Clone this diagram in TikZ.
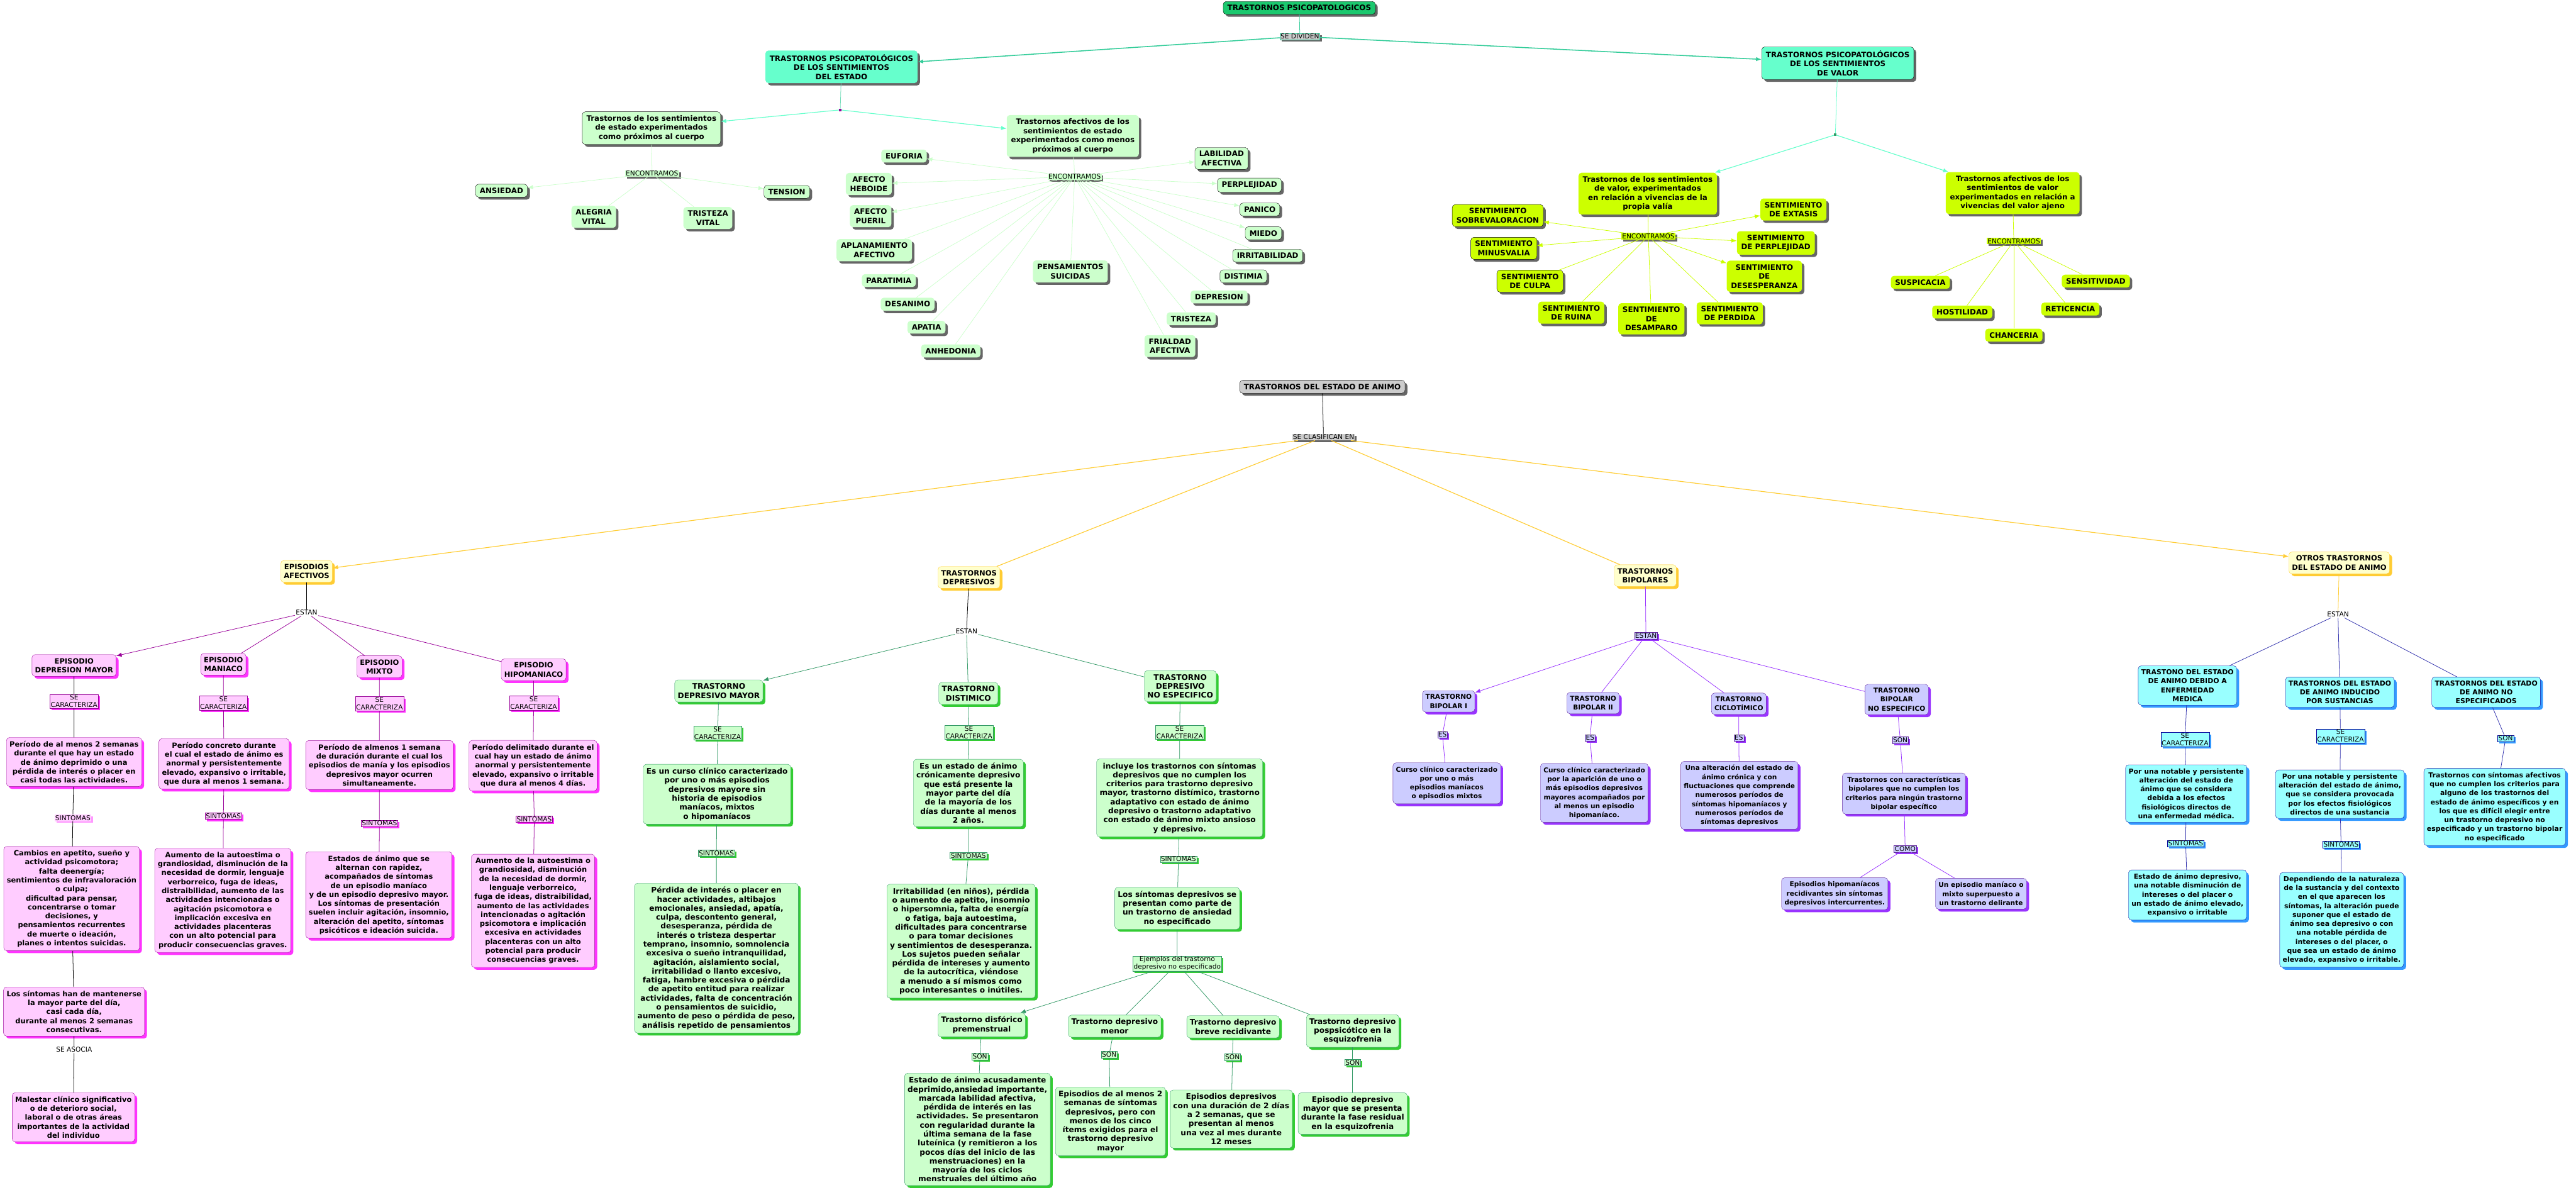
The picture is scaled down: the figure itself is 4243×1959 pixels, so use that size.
\documentclass[tikz,border=0pt]{standalone}
\usepackage{fontspec}
\setmainfont{DejaVu Sans}
\usetikzlibrary{arrows.meta,shadows}
\definecolor{cRoot}{HTML}{1BC86E}
\definecolor{cAqua}{HTML}{66FFCC}
\definecolor{cSeaLn}{HTML}{33CC99}
\definecolor{cMint}{HTML}{CCFFCC}
\definecolor{cLime}{HTML}{CCFF00}
\definecolor{cShade}{HTML}{666666}
\definecolor{cGold}{HTML}{FFCC33}
\definecolor{cCream}{HTML}{FFFFCC}
\definecolor{cPink}{HTML}{FFCCFF}
\definecolor{cMag}{HTML}{FF33FF}
\definecolor{cPlum}{HTML}{990099}
\definecolor{cLeaf}{HTML}{33CC33}
\definecolor{cSea}{HTML}{339966}
\definecolor{cLav}{HTML}{CCCCFF}
\definecolor{cViol}{HTML}{9933FF}
\definecolor{cIce}{HTML}{99FFFF}
\definecolor{cSky}{HTML}{3399FF}
\definecolor{cNavy}{HTML}{000099}

\begin{document}
\begin{tikzpicture}[x=1pt,y=-1pt,>={Latex[length=9pt,width=7pt]},
  box/.style={rounded corners=5pt,align=center,inner xsep=5pt,inner ysep=6pt,font=\bfseries\fontsize{12}{14.8}\selectfont},
  tbox/.style={box,inner xsep=7pt,font=\bfseries\fontsize{12.3}{15}\selectfont},
  tag/.style={align=center,inner sep=1.2pt,font=\fontsize{11}{12.5}\selectfont},
  shd/.style={drop shadow={shadow xshift=4pt,shadow yshift=-4pt,fill=#1,opacity=1}},
  tshd/.style={drop shadow={shadow xshift=3pt,shadow yshift=-3pt,fill=#1,opacity=1}},
  ln/.style={draw=#1,line width=0.8pt},
  emo/.style={tbox,fill=cMint,shd=cShade},
  emob/.style={emo,draw=black},
  sent/.style={tbox,fill=cLime,shd=cShade},
  sentb/.style={sent,draw=black},
  kind/.style={box,fill=cCream,draw=cGold,shd=cGold},
  epi/.style={box,fill=cPink,draw=cPlum,shd=cMag,font=\bfseries\fontsize{11.9}{14.8}\selectfont},
  epitag/.style={tag,fill=cPink,draw=cPlum,tshd=cMag},
  dep/.style={box,fill=cMint,draw=cSea,shd=cLeaf,font=\bfseries\fontsize{12.6}{14.8}\selectfont},
  deptag/.style={tag,fill=cMint,draw=cSea,tshd=cLeaf},
  bip/.style={box,fill=cLav,draw=cViol!60!black,shd=cViol,font=\bfseries\fontsize{11}{14.8}\selectfont},
  biptag/.style={tag,fill=cLav,draw=cViol!60!black,tshd=cViol},
  otr/.style={box,fill=cIce,draw=cNavy,shd=cSky,font=\bfseries\fontsize{11.3}{14.8}\selectfont},
  otrtag/.style={tag,fill=cIce,draw=cNavy,tshd=cSky}]
\useasboundingbox (0,0) rectangle (4243,1959);

\node[tbox,fill=cRoot,draw=black,shd=cShade] (root) at (2140,13) {TRASTORNOS PSICOPATOLOGICOS};
\node[tag,fill=gray!40,draw=cSeaLn,tshd=cShade] (divide) at (2141,60) {SE DIVIDEN};
\node[tbox,fill=cAqua,shd=cShade] (estado) at (1386,110) {TRASTORNOS PSICOPATOLÓGICOS\\DE LOS SENTIMIENTOS\\DEL ESTADO};
\node[tbox,fill=cAqua,draw=black,shd=cShade] (valor) at (3027,104) {TRASTORNOS PSICOPATOLÓGICOS\\DE LOS SENTIMIENTOS\\DE VALOR};
\node[fill=cPlum,inner sep=0pt,minimum size=4pt] (dotA) at (1384,181) {};
\node[fill=cSea,inner sep=0pt,minimum size=4pt] (dotB) at (3023,222) {};
\draw[ln=cSeaLn] (root) -- (divide);
\draw[ln=cSeaLn,line width=1.6pt,->] (divide) -- (estado);
\draw[ln=cSeaLn,line width=1.6pt,->] (divide) -- (valor);

\node[emob] (proximos) at (1073,211) {Trastornos de los sentimientos\\de estado experimentados\\como próximos al cuerpo};
\node[emo] (menos) at (1767,224) {Trastornos afectivos de los\\sentimientos de estado\\experimentados como menos\\próximos al cuerpo};
\draw[ln=cSeaLn!70] (estado) -- (dotA);
\draw[ln=cAqua,line width=1.2pt,->] (dotA) -- (proximos);
\draw[ln=cAqua,line width=1.2pt,->] (dotA) -- (menos);

\node[tag,fill=cMint,tshd=cShade] (encA) at (1074,286) {ENCONTRAMOS};
\node[emob] (ansiedad) at (826,314) {ANSIEDAD};
\node[emo] (alegria) at (978,357) {ALEGRIA\\VITAL};
\node[emo] (tristv) at (1166,359) {TRISTEZA\\VITAL};
\node[emob] (tension) at (1296,316) {TENSION};
\draw[ln=cMint] (proximos) -- (encA);
\draw[ln=cMint,->] (encA) -- (ansiedad);
\draw[ln=cMint] (encA) -- (alegria);
\draw[ln=cMint] (encA) -- (tristv);
\draw[ln=cMint,->] (encA) -- (tension);

\node[tag,fill=cMint,tshd=cShade] (encB) at (1770,291) {ENCONTRAMOS};
\node[emo] (euforia) at (1489,257) {EUFORIA};
\node[emo] (heboide) at (1431,303) {AFECTO\\HEBOIDE};
\node[emo] (pueril) at (1434,356) {AFECTO\\PUERIL};
\node[emo] (aplan) at (1440,412) {APLANAMIENTO\\AFECTIVO};
\node[emo] (paratimia) at (1464,462) {PARATIMIA};
\node[emo] (desanimo) at (1495,501) {DESANIMO};
\node[emo] (apatia) at (1526,539) {APATIA};
\node[emo] (anhedonia) at (1566,578) {ANHEDONIA};
\node[emo] (suicidas) at (1763,447) {PENSAMIENTOS\\SUICIDAS};
\node[emo] (frialdad) at (1927,570) {FRIALDAD\\AFECTIVA};
\node[emo] (tristeza) at (1962,525) {TRISTEZA};
\node[emo] (depresion) at (2008,489) {DEPRESION};
\node[emob] (distimia) at (2048,455) {DISTIMIA};
\node[emob] (irrita) at (2088,421) {IRRITABILIDAD};
\node[emob] (miedo) at (2081,384) {MIEDO};
\node[emob] (panico) at (2075,345) {PANICO};
\node[emob] (perplej) at (2058,305) {PERPLEJIDAD};
\node[emob] (labil) at (2012,261) {LABILIDAD\\AFECTIVA};
\draw[ln=cMint] (menos) -- (encB);
\foreach \n in {euforia,heboide,pueril,miedo,panico,perplej,labil}
  \draw[ln=cMint,->] (encB) -- (\n);
\foreach \n in {aplan,paratimia,desanimo,apatia,anhedonia,suicidas,frialdad,tristeza,depresion,distimia,irrita}
  \draw[ln=cMint] (encB) -- (\n);

\node[sent] (propia) at (2714,319) {Trastornos de los sentimientos\\de valor, experimentados\\en relación a vivencias de la\\propia valía};
\node[sent] (ajeno) at (3315,318) {Trastornos afectivos de los\\sentimientos de valor\\experimentados en relación a\\vivencias del valor ajeno};
\draw[ln=cAqua] (valor) -- (dotB);
\draw[ln=cAqua,line width=1.2pt,->] (dotB) -- (propia);
\draw[ln=cAqua,line width=1.2pt,->] (dotB) -- (ajeno);

\node[tag,fill=cLime,tshd=cShade] (encC) at (2715,389) {ENCONTRAMOS};
\node[sentb] (sobre) at (2467,355) {SENTIMIENTO\\SOBREVALORACION};
\node[sentb] (minus) at (2477,409) {SENTIMIENTO\\MINUSVALIA};
\node[sentb] (culpa) at (2520,463) {SENTIMIENTO\\DE CULPA};
\node[sent] (ruina) at (2588,515) {SENTIMIENTO\\DE RUINA};
\node[sent] (desamp) at (2720,525) {SENTIMIENTO\\DE\\DESAMPARO};
\node[sent] (perdida) at (2849,516) {SENTIMIENTO\\DE PERDIDA};
\node[sent] (desesp) at (2906,455) {SENTIMIENTO\\DE\\DESESPERANZA};
\node[sent] (sperp) at (2925,400) {SENTIMIENTO\\DE PERPLEJIDAD};
\node[sent] (extasis) at (2954,345) {SENTIMIENTO\\DE EXTASIS};
\draw[ln=cLime] (propia) -- (encC);
\foreach \n in {sobre,minus,desesp,sperp,extasis}
  \draw[ln=cLime,->] (encC) -- (\n);
\foreach \n in {culpa,ruina,desamp,perdida}
  \draw[ln=cLime] (encC) -- (\n);

\node[tag,fill=cLime,tshd=cShade] (encD) at (3317,397) {ENCONTRAMOS};
\node[sent] (suspic) at (3163,465) {SUSPICACIA};
\node[sent] (hostil) at (3232,514) {HOSTILIDAD};
\node[sent] (chanc) at (3317,552) {CHANCERIA};
\node[sent] (retic) at (3410,509) {RETICENCIA};
\node[sent] (sensit) at (3452,463) {SENSITIVIDAD};
\draw[ln=cLime] (ajeno) -- (encD);
\foreach \n in {suspic,hostil,chanc,retic,sensit}
  \draw[ln=cLime] (encD) -- (\n);

\node[tbox,fill=gray!40,draw=black,shd=cShade] (animo) at (2178,637) {TRASTORNOS DEL ESTADO DE ANIMO};
\node[tag,fill=gray!40,tshd=cShade] (clasif) at (2180,720) {SE CLASIFICAN EN};
\node[kind] (episod) at (505,941) {EPISODIOS\\AFECTIVOS};
\node[kind] (depres) at (1596,951) {TRASTORNOS\\DEPRESIVOS};
\node[kind] (bipol) at (2710,948) {TRASTORNOS\\BIPOLARES};
\node[kind] (otros) at (3853,927) {OTROS TRASTORNOS\\DEL ESTADO DE ANIMO};
\draw[ln=black] (animo) -- (clasif);
\draw[ln=cGold,line width=1.2pt,->] (clasif) -- (episod);
\draw[ln=cGold,line width=1.2pt] (clasif) -- (depres);
\draw[ln=cGold,line width=1.2pt] (clasif) -- (bipol);
\draw[ln=cGold,line width=1.2pt,->] (clasif) -- (otros);

\node[tag] (estanE) at (505,1009) {ESTAN};
\node[epi] (epdm) at (122,1096) {EPISODIO\\DEPRESION MAYOR};
\node[epi] (epman) at (368,1094) {EPISODIO\\MANIACO};
\node[epi] (epmix) at (625,1098) {EPISODIO\\MIXTO};
\node[epi] (ephipo) at (879,1103) {EPISODIO\\HIPOMANIACO};
\node[epitag] (carDm) at (122,1155) {SE\\CARACTERIZA};
\node[epitag] (carMan) at (368,1158) {SE\\CARACTERIZA};
\node[epitag] (carMix) at (625,1159) {SE\\CARACTERIZA};
\node[epitag] (carHipo) at (879,1158) {SE\\CARACTERIZA};
\node[epi] (descDm) at (122,1255) {Período de al menos 2 semanas\\durante el que hay un estado\\de ánimo deprimido o una\\pérdida de interés o placer en\\casi todas las actividades.};
\node[epi] (descMan) at (369,1258) {Período concreto durante\\el cual el estado de ánimo es\\anormal y persistentemente\\elevado, expansivo o irritable,\\que dura al menos 1 semana.};
\node[epi] (descMix) at (625,1260) {Período de almenos 1 semana\\de duración durante el cual los\\episodios de manía y los episodios\\depresivos mayor ocurren\\simultaneamente.};
\node[epi] (descHipo) at (878,1261) {Período delimitado durante el\\cual hay un estado de ánimo\\anormal y persistentemente\\elevado, expansivo o irritable\\que dura al menos 4 días.};
\node[tag,fill=cPink,tshd=cMag!50] (sinDm) at (120,1347) {SINTOMAS};
\node[epitag] (sinMan) at (368,1344) {SINTOMAS};
\node[epitag] (sinMix) at (625,1356) {SINTOMAS};
\node[epitag] (sinHipo) at (880,1349) {SINTOMAS};
\node[epi] (symDm) at (118,1480) {Cambios en apetito, sueño y\\actividad psicomotora;\\falta deenergía;\\sentimientos de infravaloración\\o culpa;\\dificultad para pensar,\\concentrarse o tomar\\decisiones, y\\pensamientos recurrentes\\de muerte o ideación,\\planes o intentos suicidas.};
\node[epi] (symMan) at (367,1483) {Aumento de la autoestima o\\grandiosidad, disminución de la\\necesidad de dormir, lenguaje\\verborreico, fuga de ideas,\\distraibilidad, aumento de las\\actividades intencionadas o\\agitación psicomotora e\\implicación excesiva en\\actividades placenteras\\con un alto potencial para\\producir consecuencias graves.};
\node[epi] (symMix) at (624,1474) {Estados de ánimo que se\\alternan con rapidez,\\acompañados de síntomas\\de un episodio maníaco\\y de un episodio depresivo mayor.\\Los síntomas de presentación\\suelen incluir agitación, insomnio,\\alteración del apetito, síntomas\\psicóticos e ideación suicida.};
\node[epi] (symHipo) at (878,1500) {Aumento de la autoestima o\\grandiosidad, disminución\\de la necesidad de dormir,\\lenguaje verborreico,\\fuga de ideas, distraibilidad,\\aumento de las actividades\\intencionadas o agitación\\psicomotora e implicación\\excesiva en actividades\\placenteras con un alto\\potencial para producir\\consecuencias graves.};
\node[epi] (mantDm) at (122,1666) {Los síntomas han de mantenerse\\la mayor parte del día,\\casi cada día,\\durante al menos 2 semanas\\consecutivas.};
\node[tag] (asocia) at (122,1729) {SE ASOCIA};
\node[epi] (malestar) at (121,1840) {Malestar clínico significativo\\o de deterioro social,\\laboral o de otras áreas\\importantes de la actividad\\del individuo};
\draw[ln=black] (episod) -- (estanE);
\draw[ln=cPlum,->] (estanE) -- (epdm);
\foreach \n in {epman,epmix,ephipo}
  \draw[ln=cPlum] (estanE) -- (\n);
\draw[ln=black] (epdm) -- (carDm) -- (descDm) -- (sinDm) -- (symDm) -- (mantDm) -- (asocia) -- (malestar);
\draw[ln=cPlum] (epman) -- (carMan) -- (descMan) -- (sinMan) -- (symMan);
\draw[ln=cPlum] (epmix) -- (carMix) -- (descMix) -- (sinMix) -- (symMix);
\draw[ln=cPlum] (ephipo) -- (carHipo) -- (descHipo) -- (sinHipo) -- (symHipo);

\node[tag] (estanD) at (1592,1040) {ESTAN};
\node[dep] (tdm) at (1184,1138) {TRASTORNO\\DEPRESIVO MAYOR};
\node[dep] (tdist) at (1595,1142) {TRASTORNO\\DISTIMICO};
\node[dep] (tdne) at (1944,1130) {TRASTORNO\\DEPRESIVO\\NO ESPECIFICO};
\node[deptag] (carTdm) at (1182,1207) {SE\\CARACTERIZA};
\node[deptag] (carDist) at (1596,1206) {SE\\CARACTERIZA};
\node[deptag] (carNe) at (1943,1206) {SE\\CARACTERIZA};
\node[dep] (descTdm) at (1181,1308) {Es un curso clínico caracterizado\\por uno o más episodios\\depresivos mayore sin\\historia de episodios\\maníacos, mixtos\\o hipomaníacos};
\node[dep] (descDist) at (1595,1306) {Es un estado de ánimo\\crónicamente depresivo\\que está presente la\\mayor parte del día\\de la mayoría de los\\días durante al menos\\2 años.};
\node[dep] (descNe) at (1943,1314) {incluye los trastornos con síntomas\\depresivos que no cumplen los\\criterios para trastorno depresivo\\mayor, trastorno distímico, trastorno\\adaptativo con estado de ánimo\\depresivo o trastorno adaptativo\\con estado de ánimo mixto ansioso\\y depresivo.};
\node[deptag] (sinTdm) at (1180,1405) {SINTOMAS};
\node[deptag] (sinDist) at (1595,1409) {SINTOMAS};
\node[deptag] (sinNe) at (1941,1415) {SINTOMAS};
\node[dep] (symTdm) at (1180,1578) {Pérdida de interés o placer en\\hacer actividades, altibajos\\emocionales, ansiedad, apatía,\\culpa, descontento general,\\desesperanza, pérdida de\\interés o tristeza despertar\\temprano, insomnio, somnolencia\\excesiva o sueño intranquilidad,\\agitación, aislamiento social,\\irritabilidad o llanto excesivo,\\fatiga, hambre excesiva o pérdida\\de apetito entitud para realizar\\actividades, falta de concentración\\o pensamientos de suicidio,\\aumento de peso o pérdida de peso,\\análisis repetido de pensamientos};
\node[dep] (symDist) at (1583,1550) {Irritabilidad (en niños), pérdida\\o aumento de apetito, insomnio\\o hipersomnia, falta de energía\\o fatiga, baja autoestima,\\dificultades para concentrarse\\o para tomar decisiones\\y sentimientos de desesperanza.\\Los sujetos pueden señalar\\pérdida de intereses y aumento\\de la autocrítica, viéndose\\a menudo a sí mismos como\\poco interesantes o inútiles.};
\node[dep] (symNe) at (1939,1496) {Los síntomas depresivos se\\presentan como parte de\\un trastorno de ansiedad\\no especificado};
\node[deptag] (ejemplos) at (1939,1587) {Ejemplos del trastorno\\depresivo no especificado};
\node[dep] (disf) at (1617,1688) {Trastorno disfórico\\premenstrual};
\node[dep] (menor) at (1836,1690) {Trastorno depresivo\\menor};
\node[dep] (breve) at (2031,1691) {Trastorno depresivo\\breve recidivante};
\node[dep] (posps) at (2228,1698) {Trastorno depresivo\\pospsicótico en la\\esquizofrenia};
\node[deptag] (sonDisf) at (1614,1740) {SON};
\node[deptag] (sonMenor) at (1827,1737) {SON};
\node[deptag] (sonBreve) at (2030,1741) {SON};
\node[deptag] (sonPosps) at (2228,1750) {SON};
\node[dep] (dDisf) at (1610,1860) {Estado de ánimo acusadamente\\deprimido,ansiedad importante,\\marcada labilidad afectiva,\\pérdida de interés en las\\actividades. Se presentaron\\con regularidad durante la\\última semana de la fase\\luteínica (y remitieron a los\\pocos días del inicio de las\\menstruaciones) en la\\mayoría de los ciclos\\menstruales del último año};
\node[dep] (dMenor) at (1829,1847) {Episodios de al menos 2\\semanas de síntomas\\depresivos, pero con\\menos de los cinco\\ítems exigidos para el\\trastorno depresivo\\mayor};
\node[dep] (dBreve) at (2028,1843) {Episodios depresivos\\con una duración de 2 días\\a 2 semanas, que se\\presentan al menos\\una vez al mes durante\\12 meses};
\node[dep] (dPosps) at (2228,1834) {Episodio depresivo\\mayor que se presenta\\durante la fase residual\\en la esquizofrenia};
\draw[ln=black] (depres) -- (estanD);
\draw[ln=cSea,->] (estanD) -- (tdm);
\draw[ln=cSea] (estanD) -- (tdist);
\draw[ln=cSea] (estanD) -- (tdne);
\draw[ln=cSea] (tdm) -- (carTdm) -- (descTdm) -- (sinTdm) -- (symTdm);
\draw[ln=cSea] (tdist) -- (carDist) -- (descDist) -- (sinDist) -- (symDist);
\draw[ln=cSea] (tdne) -- (carNe) -- (descNe) -- (sinNe) -- (symNe) -- (ejemplos);
\draw[ln=cSea,->] (ejemplos) -- (disf);
\foreach \n in {menor,breve,posps}
  \draw[ln=cSea] (ejemplos) -- (\n);
\draw[ln=cSea] (disf) -- (sonDisf) -- (dDisf);
\draw[ln=cSea] (menor) -- (sonMenor) -- (dMenor);
\draw[ln=cSea] (breve) -- (sonBreve) -- (dBreve);
\draw[ln=cSea] (posps) -- (sonPosps) -- (dPosps);

\node[biptag] (estanB) at (2711,1047) {ESTAN};
\node[bip] (bp1) at (2386,1155) {TRASTORNO\\BIPOLAR I};
\node[bip] (bp2) at (2624,1158) {TRASTORNO\\BIPOLAR II};
\node[bip] (ciclo) at (2864,1159) {TRASTORNO\\CICLOTÍMICO};
\node[bip] (bpne) at (3124,1152) {TRASTORNO\\BIPOLAR\\NO ESPECIFICO};
\node[biptag] (es1) at (2376,1210) {ES};
\node[biptag] (es2) at (2619,1215) {ES};
\node[biptag] (es3) at (2864,1215) {ES};
\node[biptag] (sonB) at (3130,1219) {SON};
\node[bip] (dbp1) at (2383,1290) {Curso clínico caracterizado\\por uno o más\\episodios maníacos\\o episodios mixtos};
\node[bip] (dbp2) at (2626,1306) {Curso clínico caracterizado\\por la aparición de uno o\\más episodios depresivos\\mayores acompañados por\\al menos un episodio\\hipomaníaco.};
\node[bip] (dciclo) at (2865,1310) {Una alteración del estado de\\ánimo crónica y con\\fluctuaciones que comprende\\numerosos períodos de\\síntomas hipomaníacos y\\numerosos períodos de\\síntomas depresivos};
\node[bip] (dbpne) at (3136,1307) {Trastornos con características\\bipolares que no cumplen los\\criterios para ningún trastorno\\bipolar específico};
\node[biptag] (como) at (3138,1398) {COMO};
\node[bip] (hiporec) at (3022,1472) {Episodios hipomaníacos\\recidivantes sin síntomas\\depresivos intercurrentes.};
\node[bip] (delir) at (3263,1472) {Un episodio maníaco o\\mixto superpuesto a\\un trastorno delirante};
\draw[ln=cViol] (bipol) -- (estanB);
\draw[ln=cViol,->] (estanB) -- (bp1);
\foreach \n in {bp2,ciclo,bpne}
  \draw[ln=cViol] (estanB) -- (\n);
\draw[ln=cViol] (bp1) -- (es1) -- (dbp1);
\draw[ln=cViol] (bp2) -- (es2) -- (dbp2);
\draw[ln=cViol] (ciclo) -- (es3) -- (dciclo);
\draw[ln=cViol] (bpne) -- (sonB) -- (dbpne) -- (como);
\draw[ln=cViol] (como) -- (hiporec);
\draw[ln=cViol] (como) -- (delir);

\node[tag] (estanO) at (3851,1012) {ESTAN};
\node[otr] (omed) at (3603,1129) {TRASTONO DEL ESTADO\\DE ANIMO DEBIDO A\\ENFERMEDAD\\MEDICA};
\node[otr] (osus) at (3854,1140) {TRASTORNOS DEL ESTADO\\DE ANIMO INDUCIDO\\POR SUSTANCIAS};
\node[otr] (one) at (4095,1140) {TRASTORNOS DEL ESTADO\\DE ANIMO NO\\ESPECIFICADOS};
\node[otrtag] (carMed) at (3599,1218) {SE\\CARACTERIZA};
\node[otrtag] (carSus) at (3855,1212) {SE\\CARACTERIZA};
\node[otrtag] (sonO) at (4127,1216) {SON};
\node[otr] (dMed) at (3601,1307) {Por una notable y persistente\\alteración del estado de\\ánimo que se considera\\debida a los efectos\\fisiológicos directos de\\una enfermedad médica.};
\node[otr] (dSus) at (3854,1308) {Por una notable y persistente\\alteración del estado de ánimo,\\que se considera provocada\\por los efectos fisiológicos\\directos de una sustancia};
\node[otr] (dOne) at (4109,1329) {Trastornos con síntomas afectivos\\que no cumplen los criterios para\\alguno de los trastornos del\\estado de ánimo específicos y en\\los que es difícil elegir entre\\un trastorno depresivo no\\especificado y un trastorno bipolar\\no especificado};
\node[otrtag] (sinMed) at (3600,1389) {SINTOMAS};
\node[otrtag] (sinSus) at (3856,1391) {SINTOMAS};
\node[otr] (sMed) at (3603,1474) {Estado de ánimo depresivo,\\una notable disminución de\\intereses o del placer o\\un estado de ánimo elevado,\\expansivo o irritable};
\node[otr] (sSus) at (3857,1515) {Dependiendo de la naturaleza\\de la sustancia y del contexto\\en el que aparecen los\\síntomas, la alteración puede\\suponer que el estado de\\ánimo sea depresivo o con\\una notable pérdida de\\intereses o del placer, o\\que sea un estado de ánimo\\elevado, expansivo o irritable.};
\draw[ln=cGold] (otros) -- (estanO);
\foreach \n in {omed,osus,one}
  \draw[ln=cNavy!80] (estanO) -- (\n);
\draw[ln=cNavy!80] (omed) -- (carMed) -- (dMed) -- (sinMed) -- (sMed);
\draw[ln=cNavy!80] (osus) -- (carSus) -- (dSus) -- (sinSus) -- (sSus);
\draw[ln=cNavy!80] (one) -- (sonO) -- (dOne);
\end{tikzpicture}
\end{document}
